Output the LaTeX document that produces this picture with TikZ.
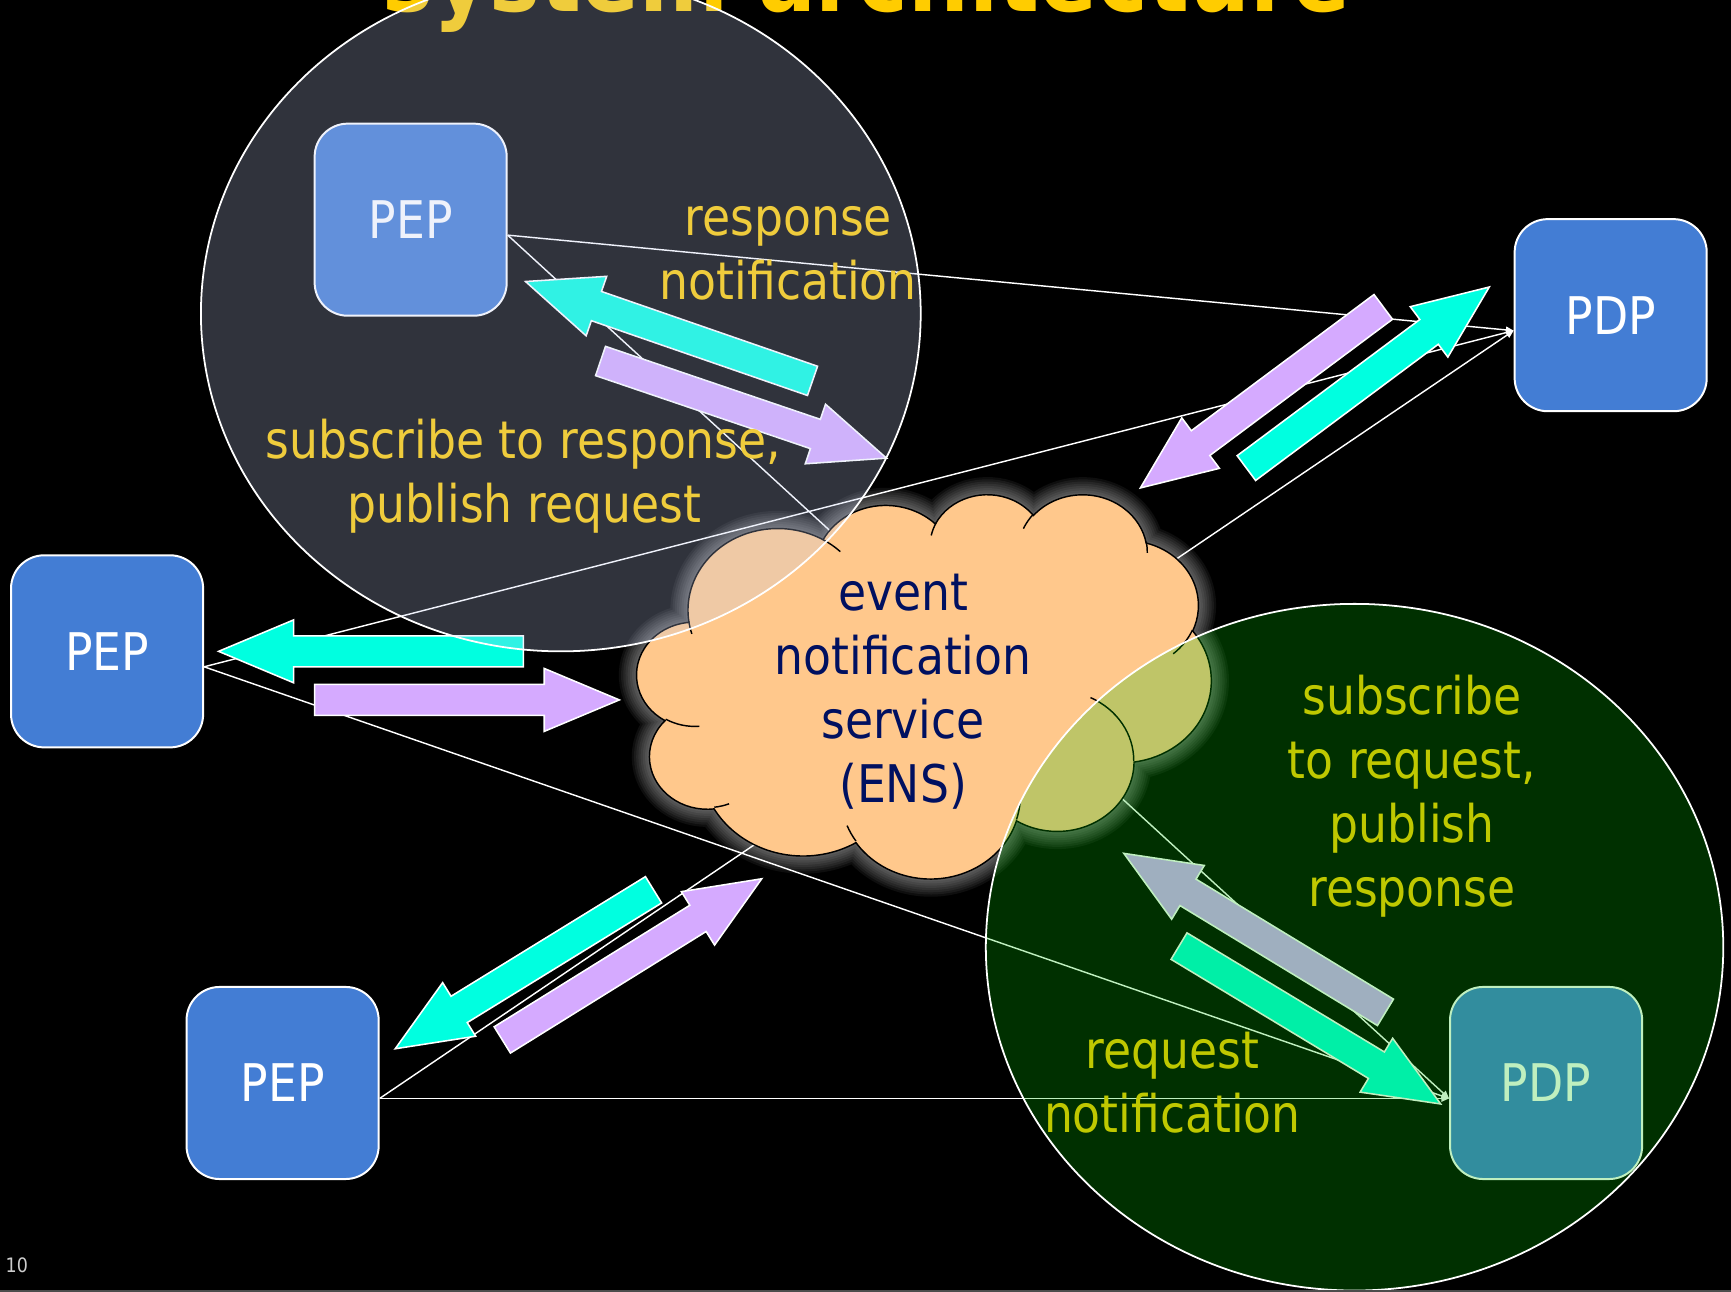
\documentclass[tikz,border=0pt]{standalone}
\usepackage{fontspec}
\setmainfont{DejaVu Sans}[FakeStretch=0.88]
\usetikzlibrary{calc,arrows.meta}

\definecolor{boxblue}{RGB}{67,125,212}
\definecolor{arrowcyan}{RGB}{0,255,224}
\definecolor{arrowpurple}{RGB}{213,170,255}
\definecolor{cloudfill}{RGB}{255,200,140}
\definecolor{enstext}{RGB}{0,16,96}
\definecolor{labelyellow}{RGB}{255,204,0}
\definecolor{ringgrey}{RGB}{192,204,240}
\definecolor{ringgreen}{RGB}{0,192,0}
\definecolor{pagenum}{RGB}{205,205,205}

\newcommand\lblfont{\fontsize{47}{58}\selectfont}

% one bump of the cloud: ellipse radii, start angle and sweep (degrees, y downwards)
\newcommand\carc[4]{\pgfextra{%
  \pgfmathsetmacro\carcS{atan2((#1)*sin(#3),(#2)*cos(#3))}%
  \pgfmathsetmacro\carcE{atan2((#1)*sin((#3)+(#4)),(#2)*cos((#3)+(#4)))}%
  \pgfmathsetmacro\carcD{mod(\carcE-\carcS+720,360)}%
  \global\let\carcS\carcS \global\let\carcD\carcD}%
  arc[x radius=#1, y radius=#2, start angle=\carcS, delta angle=\carcD]}

\newcommand\ensoutline{(390,1437)
  \carc{675.3}{919.0}{-190.4875}{123.7805}
  \carc{533.3}{726.7}{-144.1024}{89.9452}
  \carc{436.5}{594.5}{-145.8079}{99.7230}
  \carc{485.7}{659.5}{-130.9861}{117.2417}
  \carc{533.3}{727.3}{-78.7089}{109.0269}
  \carc{677.5}{922.0}{-46.2673}{130.2690}
  \carc{578.5}{786.7}{0.6250}{114.0333}
  \carc{675.2}{921.5}{22.4516}{115.1726}
  \carc{772.0}{1054.3}{66.2426}{75.7110}
  \carc{436.0}{591.8}{-274.9421}{146.7356}
  \carc{434.5}{594.5}{-246.8285}{152.5189} -- cycle}

\newcommand\ensfolds{
  (469.3,2617.7) \carc{434.5}{594.5}{86.7420}{26.4295}
  (692.8,3489.9) \carc{436.0}{591.8}{73.6105}{11.4475}
  (1647.8,3909.0) \carc{675.2}{921.5}{137.6242}{14.0811}
  (2882.7,3475.1) \carc{675.2}{921.5}{6.4533}{15.9984}
  (3412.9,2295.4) \carc{578.5}{786.7}{-70.2924}{70.9174}
  (4179.8,1535.4) \carc{533.3}{727.3}{30.3180}{27.7515}
  (3832.4,542.6) \carc{485.7}{659.5}{-13.7443}{14.8589}
  (2907.8,395.2) \carc{485.7}{659.5}{-149.1815}{18.1954}
  (2214.1,472.0) \carc{436.5}{594.5}{-163.4943}{17.6864}
  (1400.0,519.2) \carc{675.3}{919.0}{-66.7070}{12.3194}
  (412.7,1578.9) \carc{675.3}{919.0}{157.6544}{11.8582}}

% wide block arrow from a tail coordinate to a tip coordinate
\newcommand\blockarrow[3]{%
  \coordinate (bahead) at ($(#3)!68pt!(#2)$);
  \draw[#1] ($(#2)!14pt!90:(#3)$) -- ($(bahead)!14pt!90:(#3)$)
    -- ($(bahead)!28.5pt!90:(#3)$) -- (#3)
    -- ($(bahead)!28.5pt!-90:(#3)$) -- ($(bahead)!14pt!-90:(#3)$)
    -- ($(#2)!14pt!-90:(#3)$) -- cycle;}

\begin{document}
\begin{tikzpicture}[x=1pt,y=-1pt,
  box/.style={draw=white, line width=1.8pt, fill=boxblue, rounded corners=30pt,
    minimum width=174pt, minimum height=174pt, inner sep=0pt, text=white, font=\lblfont},
  lbl/.style={anchor=base, inner sep=0pt, font=\lblfont, text=labelyellow},
  enslbl/.style={lbl, text=enstext},
  link/.style={draw=white, line width=1.3pt, -{Triangle[length=7pt,width=6pt]}},
  cyanarrow/.style={fill=arrowcyan, draw=white, line width=1.4pt},
  purplearrow/.style={fill=arrowpurple, draw=white, line width=1.4pt},
  ring/.style={draw=white, line width=1.6pt, fill opacity=0.25}]

\useasboundingbox (0,0) rectangle (1568,1170);
\clip (0,0) rectangle (1568,1170);
\fill[black] (0,0) rectangle (1568,1170);

% title, cut by the top edge
\node[anchor=base, inner sep=0pt, text=labelyellow,
  font=\bfseries\fontsize{88}{100}\selectfont] (title) at (785,10) {system architecture};

% enforcement and decision points
\node[box] (pep1) at (372,199) {PEP};
\node[box] (pdp1) at (1459,285.5) {PDP};
\node[box] (pep2) at (97,590) {PEP};
\node[box] (pep3) at (256,981) {PEP};
\node[box] (pdp2) at (1400.5,981) {PDP};

% logical request paths
\foreach \p in {pep1,pep2,pep3}
  \foreach \q in {pdp1,pdp2}
    \draw[link] ($(\p.east)+(0,14)$) -- ($(\q.west)+(0,14)$);

% publish / notify arrows
\coordinate (a1t) at (736,345);  \coordinate (a1h) at (476,255);
\coordinate (a2t) at (544,327);  \coordinate (a2h) at (803,415);
\coordinate (a3t) at (1253,278); \coordinate (a3h) at (1033,442);
\coordinate (a4t) at (1129,424); \coordinate (a4h) at (1349,260);
\coordinate (a5t) at (474,590);  \coordinate (a5h) at (198,590);
\coordinate (a6t) at (285,634);  \coordinate (a6h) at (561,634);
\coordinate (a7t) at (592,806);  \coordinate (a7h) at (358,950);
\coordinate (a8t) at (455,942);  \coordinate (a8h) at (690,796);
\coordinate (a9t) at (1255,917); \coordinate (a9h) at (1018,773);
\coordinate (a10t) at (1068,857);\coordinate (a10h) at (1305,1000);

\blockarrow{cyanarrow}{a1t}{a1h}
\blockarrow{purplearrow}{a2t}{a2h}
\blockarrow{purplearrow}{a3t}{a3h}
\blockarrow{cyanarrow}{a4t}{a4h}
\blockarrow{cyanarrow}{a5t}{a5h}
\blockarrow{purplearrow}{a6t}{a6h}
\blockarrow{cyanarrow}{a7t}{a7h}
\blockarrow{purplearrow}{a8t}{a8h}
\blockarrow{purplearrow}{a9t}{a9h}
\blockarrow{cyanarrow}{a10t}{a10h}

% event notification service cloud with its soft glow
\begin{scope}[shift={(577,447)}, x=0.120370pt, y=-0.080556pt]
  \foreach \w in {32,28,...,4}
    \draw[white, line width=\w pt, opacity=0.055] \ensoutline;
  \fill[cloudfill] \ensoutline;
  \draw[black, line width=1.3pt] \ensoutline;
  \draw[black, line width=1.3pt] \ensfolds;
\end{scope}

% labels
\node[lbl] (rn1) at (714,213) {response};
\node[lbl] (rn2) at (714,271) {notification};
\node[lbl] (sp1) at (474,415) {subscribe to response,};
\node[lbl] (sp2) at (475,473) {publish request};
\node[enslbl] (en1) at (818,553) {event};
\node[enslbl] (en2) at (818,611) {notification};
\node[enslbl] (en3) at (818,669) {service};
\node[enslbl] (en4) at (818,727) {(ENS)};
\node[lbl] (sr1) at (1279,647) {subscribe};
\node[lbl] (sr2) at (1279,705) {to request,};
\node[lbl] (sr3) at (1279,763) {publish};
\node[lbl] (sr4) at (1279,821) {response};
\node[lbl] (qn1) at (1062,968) {request};
\node[lbl] (qn2) at (1062,1026) {notification};

% domains
\draw[ring, fill=ringgrey] (508,284) ellipse [x radius=326, y radius=306];
\draw[ring, fill=ringgreen] (1227,858) ellipse [x radius=334, y radius=311];

% slide footer
\node[anchor=base west, inner sep=0pt, text=pagenum, font=\fontsize{18}{20}\selectfont] (pnum) at (5,1153) {10};
\draw[gray!60!black, line width=1.2pt] (0,1169.4) -- (1568,1169.4);
\end{tikzpicture}
\end{document}
